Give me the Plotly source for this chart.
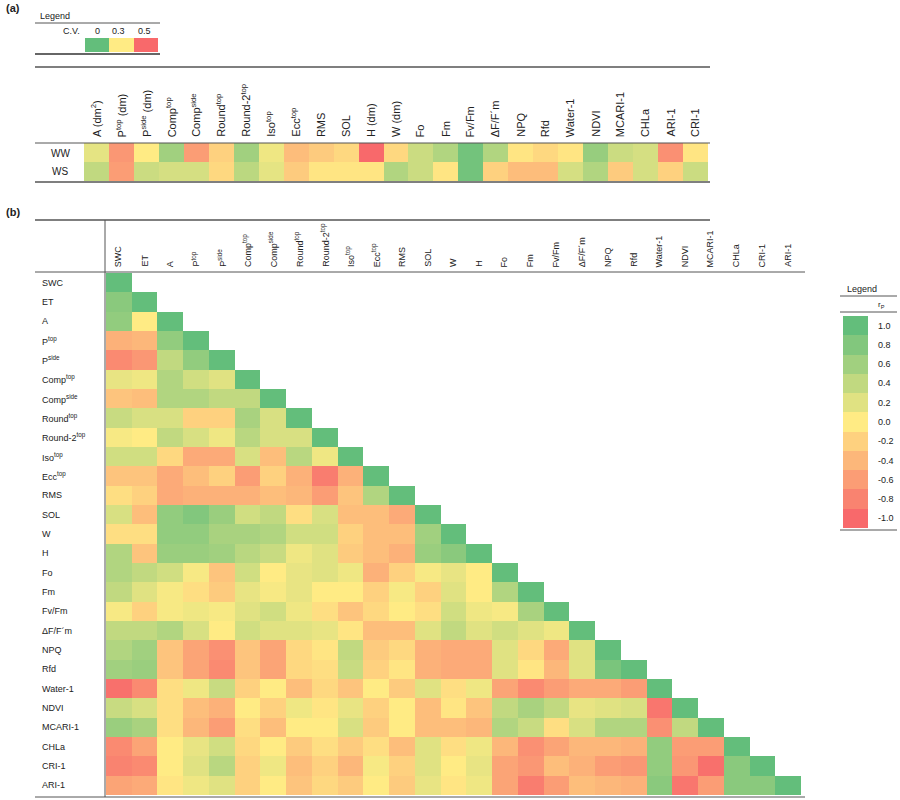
import plotly.graph_objects as go

# ---- panel (a): coefficient of variation ----
cv_traits = ["A (dm<sup>2</sup>)", "P<sup>top</sup> (dm)", "P<sup>side</sup> (dm)", "Comp<sup>top</sup>",
             "Comp<sup>side</sup>", "Round<sup>top</sup>", "Round-2<sup>top</sup>", "Iso<sup>top</sup>",
             "Ecc<sup>top</sup>", "RMS", "SOL", "H (dm)", "W (dm)", "Fo", "Fm", "Fv/Fm", "ΔF/F´m",
             "NPQ", "Rfd", "Water-1", "NDVI", "MCARI-1", "CHLa", "ARI-1", "CRI-1"]
cv_groups = ["WW", "WS"]
cv_ww = [0.25, 0.43, 0.30, 0.12, 0.42, 0.34, 0.12, 0.27, 0.37, 0.35, 0.33, 0.50, 0.33,
         0.20, 0.15, 0.03, 0.15, 0.31, 0.33, 0.31, 0.10, 0.20, 0.22, 0.44, 0.31]
cv_ws = [0.18, 0.42, 0.20, 0.22, 0.22, 0.33, 0.17, 0.25, 0.35, 0.31, 0.31, 0.31, 0.15,
         0.20, 0.31, 0.03, 0.34, 0.37, 0.37, 0.22, 0.15, 0.35, 0.22, 0.34, 0.20]
cv_legend = [0, 0.3, 0.5]

# ---- panel (b): correlation matrix (lower triangle, diagonal = 1) ----
vars_b = ["SWC", "ET", "A", "P<sup>top</sup>", "P<sup>side</sup>", "Comp<sup>top</sup>",
          "Comp<sup>side</sup>", "Round<sup>top</sup>", "Round-2<sup>top</sup>", "Iso<sup>top</sup>",
          "Ecc<sup>top</sup>", "RMS", "SOL", "W", "H", "Fo", "Fm", "Fv/Fm", "ΔF/F´m", "NPQ", "Rfd",
          "Water-1", "NDVI", "MCARI-1", "CHLa", "CRI-1", "ARI-1"]
lower = [
    [],
    [0.75],
    [0.7, 0.0],
    [-0.45, -0.4, 0.7],
    [-0.75, -0.65, 0.4, 0.7],
    [0.15, 0.1, 0.5, 0.3, 0.2],
    [-0.3, -0.35, 0.5, 0.5, 0.4, 0.4],
    [0.35, 0.25, 0.25, -0.2, -0.2, 0.55, 0.25],
    [0.05, 0.0, 0.4, 0.25, 0.1, 0.45, 0.25, 0.25],
    [0.3, 0.3, -0.15, -0.5, -0.5, 0.25, -0.35, 0.45, 0.1],
    [-0.3, -0.3, -0.5, -0.35, -0.2, -0.6, -0.2, -0.45, -0.85, -0.45],
    [-0.1, -0.2, -0.5, -0.45, -0.45, -0.45, -0.35, -0.4, -0.6, -0.3, 0.5],
    [0.25, -0.35, 0.7, 0.8, 0.65, 0.3, 0.4, -0.1, 0.25, -0.35, -0.35, -0.5],
    [-0.1, -0.1, 0.7, 0.7, 0.55, 0.55, 0.5, 0.3, 0.3, -0.2, -0.35, -0.35, 0.6],
    [0.5, -0.3, 0.65, 0.65, 0.6, 0.45, 0.35, 0.1, 0.2, -0.25, -0.35, -0.45, 0.65, 0.75],
    [0.5, 0.4, 0.3, 0.05, -0.3, 0.3, 0.0, 0.15, 0.2, 0.1, -0.45, -0.2, 0.05, 0.15, 0.0],
    [0.4, 0.2, 0.05, -0.1, -0.25, 0.15, 0.05, 0.15, 0.0, 0.0, -0.2, 0.05, -0.2, 0.2, 0.0, 0.5],
    [0.05, -0.2, 0.05, 0.1, 0.05, 0.2, 0.3, 0.1, -0.1, -0.3, -0.15, 0.0, -0.1, 0.3, 0.1, 0.05, 0.55],
    [0.4, 0.4, 0.5, 0.25, 0.0, 0.3, 0.2, 0.2, 0.15, -0.05, -0.35, -0.35, 0.2, 0.4, 0.2, 0.3, 0.2, 0.1],
    [0.5, 0.6, -0.3, -0.55, -0.7, -0.3, -0.55, -0.15, -0.05, 0.4, -0.25, -0.15, -0.45, -0.5, -0.5,
     0.2, -0.15, -0.5, 0.2],
    [0.6, 0.65, -0.3, -0.55, -0.75, -0.3, -0.55, -0.15, -0.1, 0.35, -0.2, -0.05, -0.45, -0.5, -0.5,
     0.2, -0.05, -0.4, 0.2, 0.85],
    [-0.95, -0.75, -0.1, 0.1, 0.35, -0.2, 0.0, -0.35, -0.15, -0.3, 0.0, -0.25, 0.2, -0.1, 0.1,
     -0.55, -0.75, -0.6, -0.5, -0.5, -0.6],
    [0.35, 0.25, -0.1, -0.35, -0.45, 0.0, -0.2, 0.1, -0.05, 0.15, -0.2, 0.0, -0.35, -0.05, -0.3,
     0.4, 0.55, 0.4, 0.15, 0.2, 0.25, -0.9],
    [0.65, 0.55, -0.1, -0.4, -0.6, -0.1, -0.35, 0.0, 0.0, 0.25, -0.25, 0.0, -0.35, -0.35, -0.4,
     0.5, 0.35, -0.1, 0.25, 0.5, 0.5, -0.7, 0.4],
    [-0.75, -0.55, 0.0, 0.15, 0.3, -0.15, 0.0, -0.25, -0.1, -0.25, -0.1, -0.35, 0.2, -0.1, 0.1,
     -0.4, -0.7, -0.55, -0.4, -0.4, -0.45, 0.7, -0.6, -0.6],
    [-0.8, -0.75, 0.0, 0.2, 0.45, -0.2, 0.1, -0.35, -0.2, -0.4, 0.05, -0.2, 0.2, 0.0, 0.15,
     -0.55, -0.65, -0.35, -0.45, -0.6, -0.65, 0.7, -0.65, -0.95, 0.75],
    [-0.55, -0.5, -0.05, 0.1, 0.2, -0.2, 0.0, -0.3, -0.15, -0.25, 0.0, -0.25, 0.15, -0.05, 0.1,
     -0.55, -0.85, -0.6, -0.35, -0.4, -0.45, 0.75, -0.9, -0.6, 0.75, 0.75],
]
rp_legend = [1.0, 0.8, 0.6, 0.4, 0.2, 0.0, -0.2, -0.4, -0.6, -0.8, -1.0]

n = len(vars_b)
corr = [row + [1.0] + [None] * (n - len(row) - 1) for row in lower]

W, H = 900, 800
def px(x): return x / W
def py(y): return 1 - y / H

rg_scale = [[0, "#F8696B"], [0.5, "#FFEB84"], [1, "#63BE7B"]]
cv_scale = [[0, "#63BE7B"], [0.6, "#FFEB84"], [1, "#F8696B"]]
FONT = "Liberation Sans, Arial"

fig = go.Figure()
fig.add_trace(go.Heatmap(z=[cv_ww, cv_ws], x=list(range(len(cv_traits))), y=cv_groups,
                         colorscale=cv_scale, zmin=0, zmax=0.5, showscale=False,
                         xaxis="x", yaxis="y"))
fig.add_trace(go.Heatmap(z=corr, x=list(range(n)), y=list(range(n)), colorscale=rg_scale,
                         zmin=-1, zmax=1, showscale=False, xaxis="x2", yaxis="y2"))
fig.add_trace(go.Heatmap(z=[cv_legend], colorscale=cv_scale, zmin=0, zmax=0.5,
                         showscale=False, xaxis="x3", yaxis="y3"))
fig.add_trace(go.Heatmap(z=[[v] for v in rp_legend], colorscale=rg_scale, zmin=-1, zmax=1,
                         showscale=False, xaxis="x4", yaxis="y4"))

hidden = dict(visible=False, showgrid=False, zeroline=False)
fig.update_layout(
    width=W, height=H, margin=dict(l=0, r=0, t=0, b=0),
    plot_bgcolor="white", paper_bgcolor="white",
    font=dict(family=FONT, size=10, color="#222"),
    xaxis=dict(hidden, domain=[px(84), px(708)]),
    yaxis=dict(hidden, domain=[py(181), py(143)], autorange="reversed"),
    xaxis2=dict(hidden, domain=[px(106), px(801)]),
    yaxis2=dict(hidden, domain=[py(795), py(273)], autorange="reversed"),
    xaxis3=dict(hidden, domain=[px(85), px(158)]),
    yaxis3=dict(hidden, domain=[py(52), py(38)]),
    xaxis4=dict(hidden, domain=[px(843), px(868)]),
    yaxis4=dict(hidden, domain=[py(528), py(316)], autorange="reversed"),
)

ann = []
def text(x, y, s, size=10, **kw):
    d = dict(x=px(x), y=py(y), xref="paper", yref="paper", text=s, showarrow=False,
             xanchor="center", yanchor="middle",
             font=dict(family=FONT, size=size, color="#222"))
    d.update(kw)
    ann.append(d)

text(4, 8, "<b>(a)</b>", 11, xanchor="left")
text(4, 212, "<b>(b)</b>", 11, xanchor="left")

# legend (a)
text(38, 16, "Legend", 9, xanchor="left")
text(82, 31, "C.V.", 9, xanchor="right")
for lab, x in zip(["0", "0.3", "0.5"], [97, 119, 144]):
    text(x, 31, lab, 9)

# panel (a) headers and rows
cw = (708 - 84) / len(cv_traits)
for i, t in enumerate(cv_traits):
    text(84 + cw * (i + 0.5), 139, t, 11, textangle=-90, yanchor="bottom")
for g, y in zip(cv_groups, [153, 172]):
    text(60, y, g, 10)

# panel (b) headers and rows
bw = (801 - 106) / n
bh = (795 - 273) / n
for i, v in enumerate(vars_b):
    text(106 + bw * (i + 0.5), 269, v, 9, textangle=-90, yanchor="bottom")
    text(40, 273 + bh * (i + 0.5), v, 9, xanchor="left")

# legend (b)
text(862, 289, "Legend", 9)
text(881, 305, "r<sub>P</sub>", 8)
lh = (528 - 316) / len(rp_legend)
for i, v in enumerate(rp_legend):
    text(876, 316 + lh * (i + 0.5), f"{v:.1f}", 9, xanchor="left")
fig.update_layout(annotations=ann)

def line(x0, y0, x1, y1, w=1, c="#555"):
    fig.add_shape(type="line", xref="paper", yref="paper", x0=px(x0), y0=py(y0),
                  x1=px(x1), y1=py(y1), line=dict(color=c, width=w))

line(35, 23, 160, 23)
line(35, 54, 160, 54, 1.5, "#333")
line(35, 67, 710, 67, 1.5)
line(35, 143, 710, 143, 1)
line(35, 182, 710, 182, 1.5)
line(35, 220, 710, 220, 1.5)
line(35, 272, 805, 272, 1)
line(105, 220, 105, 797, 1)
line(35, 797, 805, 797, 1)
line(840, 296, 897, 296, 1)
line(840, 312, 897, 312, 1)
line(840, 530, 897, 530, 1)

fig.write_html("out.html", config={"displayModeBar": False},
               post_script="document.body.style.margin='0';")
